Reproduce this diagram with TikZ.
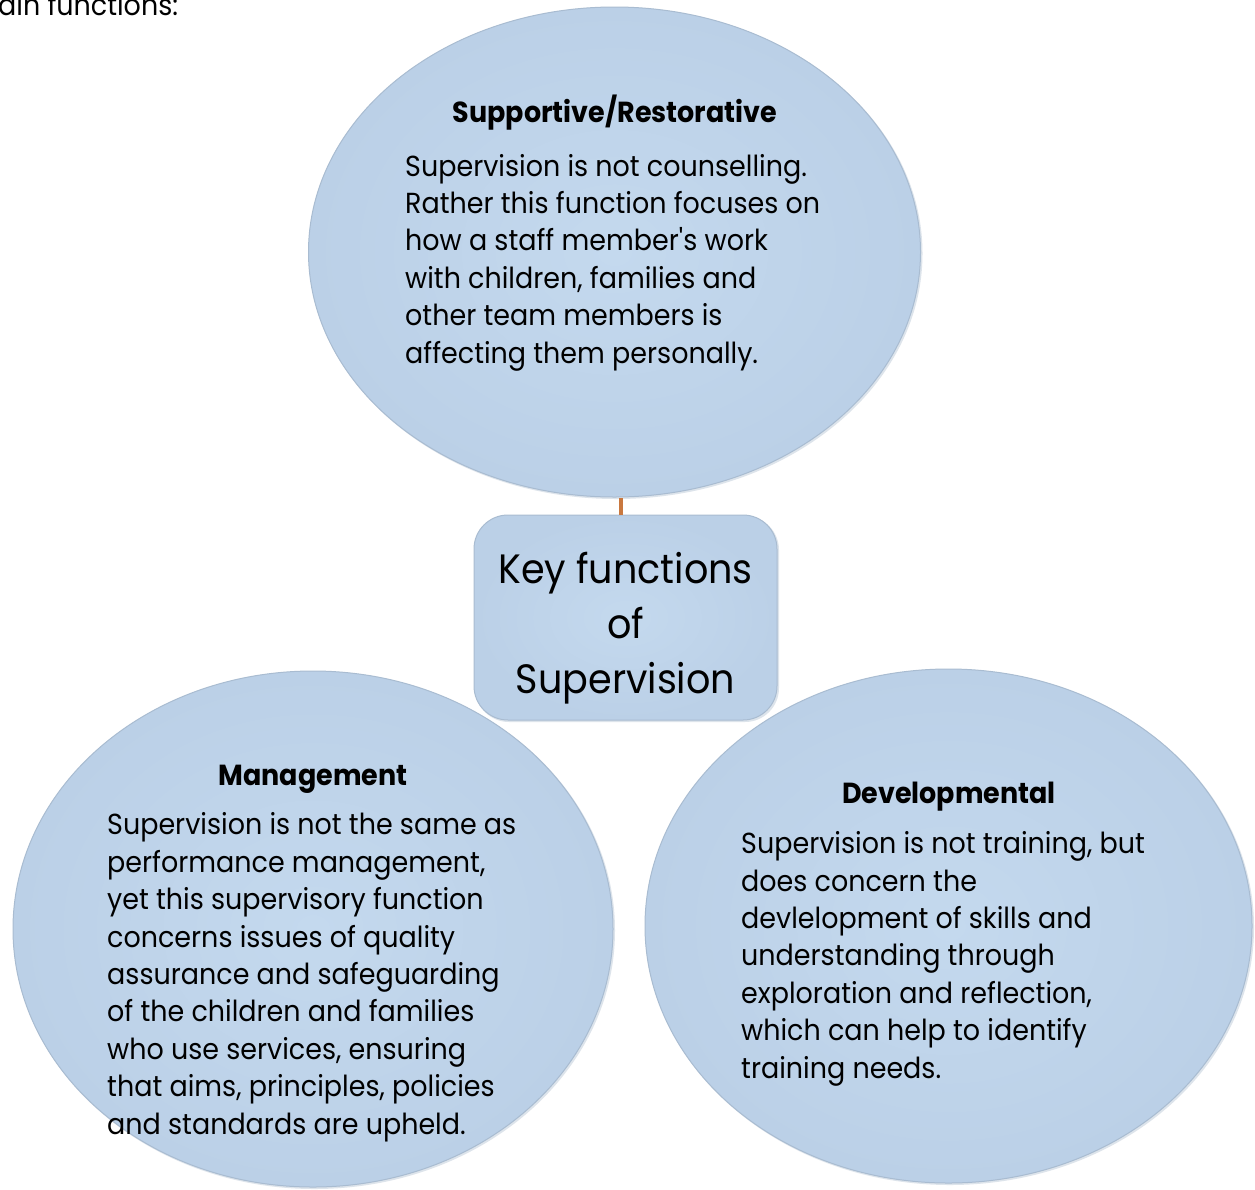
\documentclass[tikz,border=0pt]{standalone}
\usepackage{fontspec}
\setmainfont{Poppins}[FakeStretch=0.93]
\usetikzlibrary{shapes.geometric}

\definecolor{bubble}{HTML}{BFD4EA}
\definecolor{bubblein}{HTML}{C4D9EE}
\definecolor{bubbleout}{HTML}{BBD0E7}
\definecolor{rim}{HTML}{9FB2C6}
\definecolor{linkorange}{HTML}{C9783F}

\tikzset{
  bubbleshape/.style={ellipse, inner sep=0pt, inner color=bubblein, outer color=bubbleout,
    draw=rim!70!bubble, line width=1pt},
  shadowshape/.style={ellipse, inner sep=0pt, fill=rim, fill opacity=0.35, draw=none},
  keybox/.style={rectangle, rounded corners=34pt, inner sep=0pt,
    inner color=bubblein, outer color=bubbleout, draw=rim!70!bubble, line width=1pt},
  headtext/.style={inner sep=0pt, anchor=base, font=\fontsize{29}{37.4}\selectfont\bfseries},
  bodytext/.style={inner sep=0pt, anchor=base west, align=left, font=\fontsize{29}{37.4}\selectfont},
  keytext/.style={inner sep=0pt, align=center, font=\fontsize{41}{55}\selectfont},
  link/.style={draw=linkorange, line width=3.5pt},
}

\begin{document}
\begin{tikzpicture}[x=1pt,y=-1pt]
\useasboundingbox[fill=white] (0,0) rectangle (1255,1189);

% running text above the chart
\node[inner sep=0pt, anchor=base west, font=\fontsize{29}{37.4}\selectfont] (intro) at (-2,15) {ain functions:};

% soft shadows under the three bubbles
\node[shadowshape, minimum width=613pt, minimum height=491pt] (topsh) at (616,253.5) {};
\node[shadowshape, minimum width=601pt, minimum height=517pt] (leftsh) at (314.5,930.5) {};
\node[shadowshape, minimum width=608pt, minimum height=515pt] (rightsh) at (950,927.5) {};

% the three function bubbles
\node[bubbleshape, minimum width=612pt, minimum height=490pt] (top) at (614.5,252) {};
\node[bubbleshape, minimum width=600pt, minimum height=516pt] (left) at (313,929) {};
\node[bubbleshape, minimum width=607pt, minimum height=514pt] (right) at (948.5,926) {};

% central box
\node[rectangle, rounded corners=34pt, fill=rim, fill opacity=0.35, minimum width=304pt, minimum height=206pt] (boxsh) at (627,619) {};
\node[keybox, minimum width=303pt, minimum height=205pt] (key) at (625.5,617.5) {};
\node[keytext, anchor=base] (k1) at (625.5,583) {Key functions};
\node[keytext, anchor=base] (k2) at (625.5,638) {of};
\node[keytext, anchor=base] (k3) at (625.5,693) {Supervision};

% connector from the box up to the top bubble
\coordinate (lx) at (621,0);
\draw[link] (lx |- key.north) -- (lx |- top.south);

% Supportive/Restorative (body nodes are placed by the baseline of their last line)
\node[headtext] (toph) at (615,122) {Supportive/Restorative};
\node[bodytext] (topb) at (405,363) {Supervision is not counselling.\\
Rather this function focuses on\\
how a staff member\textquotesingle s work\\
with children, families and\\
other team members is\\
affecting them personally.};

% Management
\node[headtext] (lefth) at (313,785) {Management};
\node[bodytext] (leftb) at (107,1134) {Supervision is not the same as\\
performance management,\\
yet this supervisory function\\
concerns issues of quality\\
assurance and safeguarding\\
of the children and families\\
who use services, ensuring\\
that aims, principles, policies\\
and standards are upheld.};

% Developmental
\node[headtext] (righth) at (949,803) {Developmental};
\node[bodytext] (rightb) at (741,1078) {Supervision is not training, but\\
does concern the\\
devlelopment of skills and\\
understanding through\\
exploration and reflection,\\
which can help to identify\\
training needs.};
\end{tikzpicture}
\end{document}
